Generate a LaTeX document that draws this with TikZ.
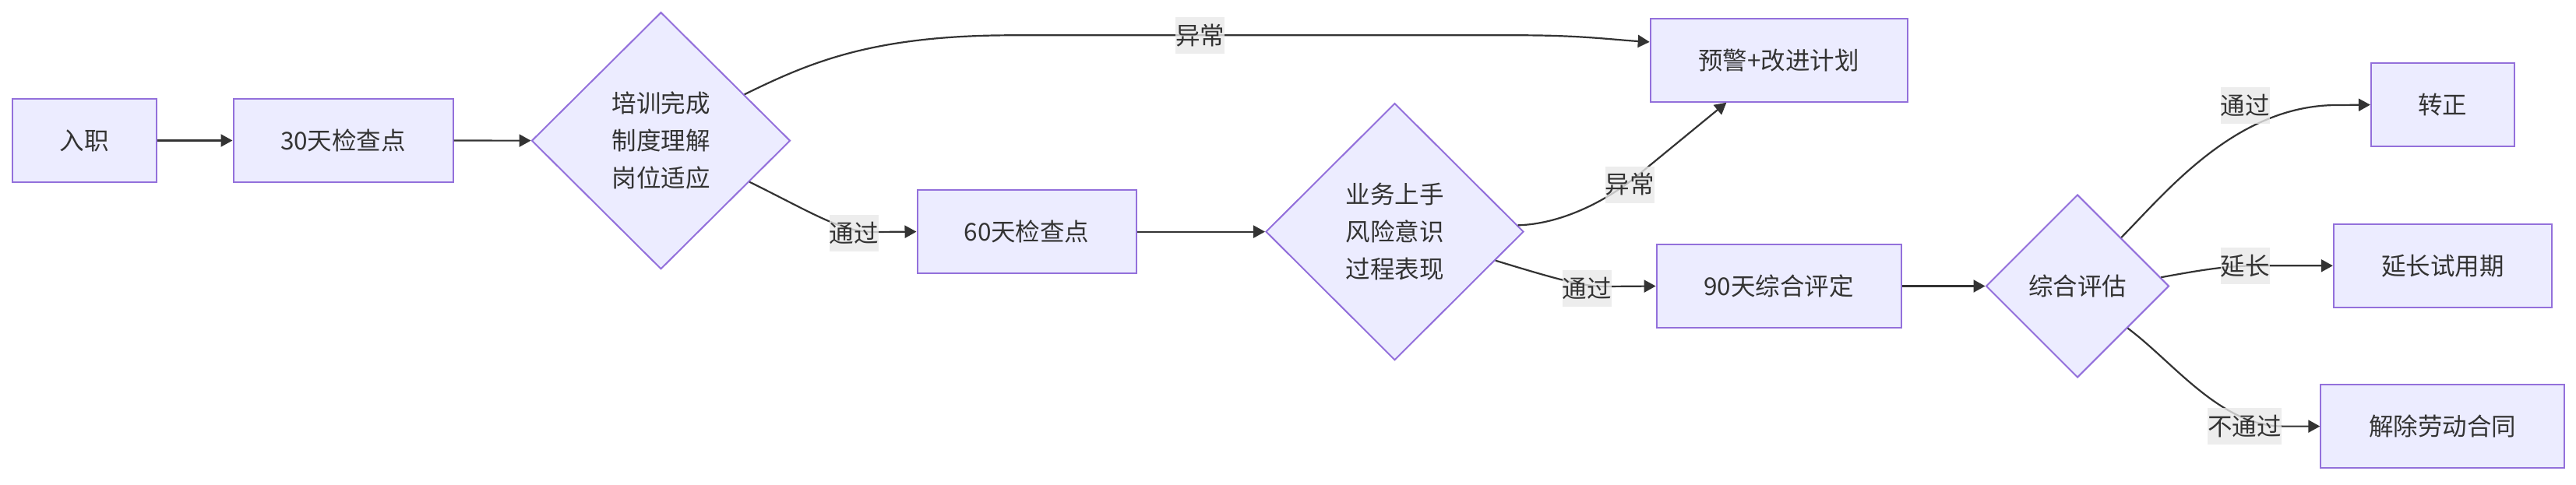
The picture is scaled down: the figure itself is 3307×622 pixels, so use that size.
\documentclass[tikz,border=0pt]{standalone}
\usepackage{fontspec}
\setmainfont{Noto Sans CJK SC}
\usetikzlibrary{shapes.geometric,arrows.meta}
\definecolor{boxfill}{HTML}{ECECFF}
\definecolor{boxline}{HTML}{9370DB}
\definecolor{edgec}{HTML}{333333}
\definecolor{lblgray}{HTML}{E8E8E8}
\tikzset{
  box/.style={draw=boxline, fill=boxfill, line width=2pt, minimum height=107pt, inner sep=0pt, text=edgec, font=\fontsize{31.5pt}{48pt}\selectfont},
  dia/.style={diamond, draw=boxline, fill=boxfill, line width=2pt, inner sep=0pt, text=edgec, align=center, font=\fontsize{31.5pt}{48pt}\selectfont},
  edge/.style={draw=edgec, line width=2.2pt, -{Triangle[length=15pt,width=16pt]}},
  lbl/.style={fill=lblgray, fill opacity=0.8, text opacity=1, text=edgec, inner sep=0pt, minimum height=47pt, font=\fontsize{31.5pt}{48pt}\selectfont}
}
\begin{document}
\begin{tikzpicture}[x=1pt,y=-1pt]
\useasboundingbox (0,0) rectangle (3307,622);
% nodes
\node[box, minimum width=185pt] (ruzhi) at (108,180.5) {入职};
\node[box, minimum width=282pt] (c30) at (440.5,180.5) {30天检查点};
\node[dia, minimum width=332pt, minimum height=330pt] (d1) at (848.5,180.7) {培训完成\\制度理解\\岗位适应};
\node[box, minimum width=330pt] (yujing) at (2283.7,77.2) {预警+改进计划};
\node[box, minimum width=281pt] (c60) at (1318,297.6) {60天检查点};
\node[dia, minimum width=331pt, minimum height=330pt] (d2) at (1790.5,297.6) {业务上手\\风险意识\\过程表现};
\node[box, minimum width=314pt] (c90) at (2283.6,367.5) {90天综合评定};
\node[dia, minimum width=235pt, minimum height=235pt] (d3) at (2667,367.5) {综合评估};
\node[box, minimum width=184pt] (zz) at (3135.9,134.6) {转正};
\node[box, minimum width=280pt] (yc) at (3135.8,341.3) {延长试用期};
\node[box, minimum width=313pt] (jc) at (3135.8,547.6) {解除劳动合同};
% edges
\draw[edge] (ruzhi) -- (c30);
\draw[edge] (c30) -- (d1);
\draw[edge] (d1.29) .. controls (1040,80) and (1120,45.3) .. (1300,45.3) -- (1950,45.3) .. controls (2030,45.3) and (2070,51) .. (yujing.172.3);
\draw[edge] (d1.-25.7) .. controls (1040,272) and (1080,298) .. (1120,298) -- (c60.west);
\draw[edge] (c60) -- (d2);
\draw[edge] (d2.3.4) .. controls (2000,288) and (2060,262) .. (2110,219) -- (yujing.219.4);
\draw[edge] (d2.-16.8) .. controls (1990,356) and (2030,368) .. (2060,368) -- (c90.west);
\draw[edge] (c90) -- (d3);
\draw[edge] (d3.48) .. controls (2780,248) and (2870,135) .. (3000,135) -- (zz.west);
\draw[edge] (d3.6.8) .. controls (2830,346) and (2860,341.3) .. (2900,341.3) -- (yc.west);
\draw[edge] (d3.-40.4) .. controls (2790,465) and (2850,547) .. (2930,547.6) -- (jc.west);
% labels
\node[lbl] (l1) at (1540.6,45.3) {异常};
\node[lbl] (l2) at (1096,299.6) {通过};
\node[lbl] (l3) at (2092,237) {异常};
\node[lbl] (l4) at (2037,370) {通过};
\node[lbl] (l5) at (2882,135) {通过};
\node[lbl] (l6) at (2882,341.3) {延长};
\node[lbl] (l7) at (2881.7,547.6) {不通过};
\end{tikzpicture}
\end{document}
